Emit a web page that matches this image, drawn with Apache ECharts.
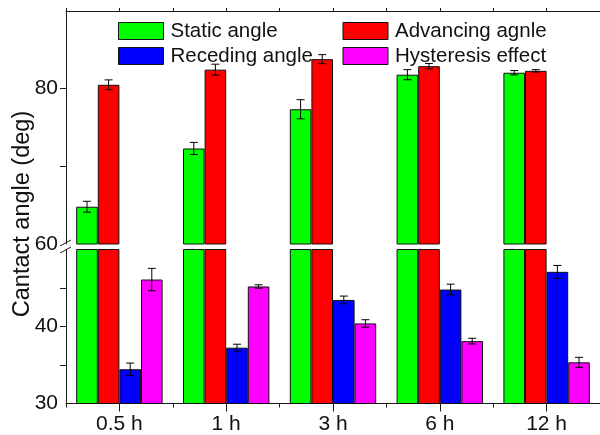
<!DOCTYPE html>
<html>
<head>
<meta charset="utf-8">
<script src="https://cdn.jsdelivr.net/npm/echarts@6/dist/echarts.min.js"></script>
<style>
  html, body { margin: 0; padding: 0; background: #fff; }
  #chart { width: 600px; height: 435px; }
</style>
</head>
<body>
<div id="chart"></div>
<script>
// Contact angles (deg) per treatment time, with standard deviations
const categories = ['0.5 h', '1 h', '3 h', '6 h', '12 h'];
const staticAngle = [64.8, 72.3, 77.35, 81.8, 82.05];
const staticErr = [0.7, 0.78, 1.23, 0.65, 0.28];
const advancingAngle = [80.5, 82.45, 83.8, 82.9, 82.3];
const advancingErr = [0.63, 0.7, 0.58, 0.35, 0.15];
const recedingAngle = [34.45, 37.25, 43.45, 44.8, 47.1];
const recedingErr = [0.8, 0.45, 0.5, 0.7, 0.83];
const hysteresis = [46.1, 45.2, 40.4, 38.1, 35.35];
const hysteresisErr = [1.45, 0.22, 0.48, 0.37, 0.65];

const upperLabels = [60, 80];
const upperTicks = [70, 80];
const lowerLabels = [30, 40];
const lowerTicks = [35, 40, 45];

const seriesDefs = [
  { name: 'Static angle', values: staticAngle, err: staticErr, color: '#00ff00' },
  { name: 'Advancing agnle', values: advancingAngle, err: advancingErr, color: '#ff0000' },
  { name: 'Receding angle', values: recedingAngle, err: recedingErr, color: '#0000ff' },
  { name: 'Hysteresis effect', values: hysteresis, err: hysteresisErr, color: '#ff00ff' }
];

const FONT = '"Liberation Sans", Arial, sans-serif';
const BAR_W = 21.6;
const AXIS_COLOR = '#1a1a1a';

const chart = echarts.init(document.getElementById('chart'), null, { renderer: 'canvas' });

// Two stacked grids form the broken value axis: 60–90 on top, 30–50 below.
const grids = [
  { left: 66, top: 11, width: 541.7, height: 233 },
  { left: 66, top: 249.5, width: 541.7, height: 154 }
];

function errorBarSeries(gridIdx) {
  const data = [];
  seriesDefs.forEach((s, k) => {
    s.values.forEach((v, i) => data.push([i, v, s.err[i], k]));
  });
  return {
    type: 'custom',
    xAxisIndex: gridIdx === 0 ? 0 : 2,
    yAxisIndex: gridIdx,
    clip: true,
    z: 5,
    silent: true,
    data: data,
    renderItem: function (params, api) {
      const i = api.value(0), v = api.value(1), e = api.value(2), k = api.value(3);
      const hi = api.coord([i, v + e]);
      const lo = api.coord([i, v - e]);
      const cx = hi[0] + (k - 1.5) * BAR_W;
      const cap = 4;
      const style = { stroke: '#000', lineWidth: 1 };
      return {
        type: 'group',
        children: [
          { type: 'line', shape: { x1: cx, y1: hi[1], x2: cx, y2: lo[1] }, style: style },
          { type: 'line', shape: { x1: cx - cap, y1: hi[1], x2: cx + cap, y2: hi[1] }, style: style },
          { type: 'line', shape: { x1: cx - cap, y1: lo[1], x2: cx + cap, y2: lo[1] }, style: style }
        ]
      };
    }
  };
}

const series = [];
[0, 1].forEach(g => {
  seriesDefs.forEach(s => {
    series.push({
      type: 'bar',
      name: s.name,
      xAxisIndex: g === 0 ? 0 : 2,
      yAxisIndex: g,
      data: s.values,
      barWidth: BAR_W,
      barGap: '0%',
      clip: true,
      itemStyle: { color: s.color, borderColor: '#111', borderWidth: 1 },
      emphasis: { disabled: true }
    });
  });
  series.push(errorBarSeries(g));
});

const legendPos = [
  { left: 118, top: 20.5 },
  { left: 342.5, top: 20.5 },
  { left: 118, top: 45.5 },
  { left: 342.5, top: 45.5 }
];

const legends = seriesDefs.map((s, k) => ({
  data: [s.name],
  left: legendPos[k].left,
  top: legendPos[k].top,
  padding: 0,
  itemWidth: 45,
  itemHeight: 17,
  icon: 'rect',
  selectedMode: false,
  itemStyle: { borderColor: '#111', borderWidth: 1 },
  textStyle: { fontFamily: FONT, fontSize: 20.5, color: '#111', padding: [0, 0, 0, 2] }
}));

const option = {
  animation: false,
  backgroundColor: '#fff',
  grid: grids,
  legend: legends,
  xAxis: [
    // upper grid: category scale for the bars (not drawn)
    { type: 'category', gridIndex: 0, data: categories, show: false },
    // upper grid: top frame with small outward ticks
    {
      type: 'value', gridIndex: 0, position: 'top', min: 0, max: 5, interval: 0.5,
      axisLine: { show: true, lineStyle: { color: AXIS_COLOR, width: 1 } },
      axisTick: { show: true, length: 3, inside: false, lineStyle: { color: AXIS_COLOR } },
      axisLabel: { show: false }, splitLine: { show: false }
    },
    // lower grid: categories with labels and major ticks
    {
      type: 'category', gridIndex: 1, data: categories, position: 'bottom',
      axisLine: { show: true, lineStyle: { color: AXIS_COLOR, width: 1 } },
      axisTick: { show: true, alignWithLabel: true, length: 8, lineStyle: { color: AXIS_COLOR } },
      axisLabel: { fontFamily: FONT, fontSize: 21, color: '#111', margin: 10 },
      splitLine: { show: false }
    },
    // lower grid: short ticks between categories
    {
      type: 'value', gridIndex: 1, position: 'bottom', min: 0, max: 5, interval: 1,
      axisLine: { show: false },
      axisTick: { show: true, length: 4, lineStyle: { color: AXIS_COLOR } },
      axisLabel: { show: false }, splitLine: { show: false }
    }
  ],
  yAxis: [
    {
      type: 'value', gridIndex: 0, min: 60, max: 90, interval: 10,
      axisLine: { show: true, lineStyle: { color: AXIS_COLOR, width: 1 } },
      axisTick: { show: true, length: 6, customValues: upperTicks, lineStyle: { color: AXIS_COLOR } },
      axisLabel: { customValues: upperLabels, fontFamily: FONT, fontSize: 21, color: '#111', margin: 8 },
      splitLine: { show: false }
    },
    {
      type: 'value', gridIndex: 1, min: 30, max: 50, interval: 5,
      axisLine: { show: true, lineStyle: { color: AXIS_COLOR, width: 1 } },
      axisTick: { show: true, length: 6, customValues: lowerTicks, lineStyle: { color: AXIS_COLOR } },
      axisLabel: { customValues: lowerLabels, fontFamily: FONT, fontSize: 21, color: '#111', margin: 8 },
      splitLine: { show: false }
    }
  ],
  graphic: [
    {
      type: 'text', x: 23, y: 214, rotation: Math.PI / 2,
      style: {
        text: 'Cantact angle (deg)', fontFamily: FONT, fontSize: 23.5, fill: '#111',
        align: 'center', verticalAlign: 'middle'
      }
    },
    // axis break marks
    { type: 'line', shape: { x1: 60, y1: 246, x2: 71, y2: 240 }, style: { stroke: AXIS_COLOR, lineWidth: 1 } },
    { type: 'line', shape: { x1: 60, y1: 253, x2: 71, y2: 247 }, style: { stroke: AXIS_COLOR, lineWidth: 1 } }
  ],
  series: series
};

chart.setOption(option);
</script>
</body>
</html>
